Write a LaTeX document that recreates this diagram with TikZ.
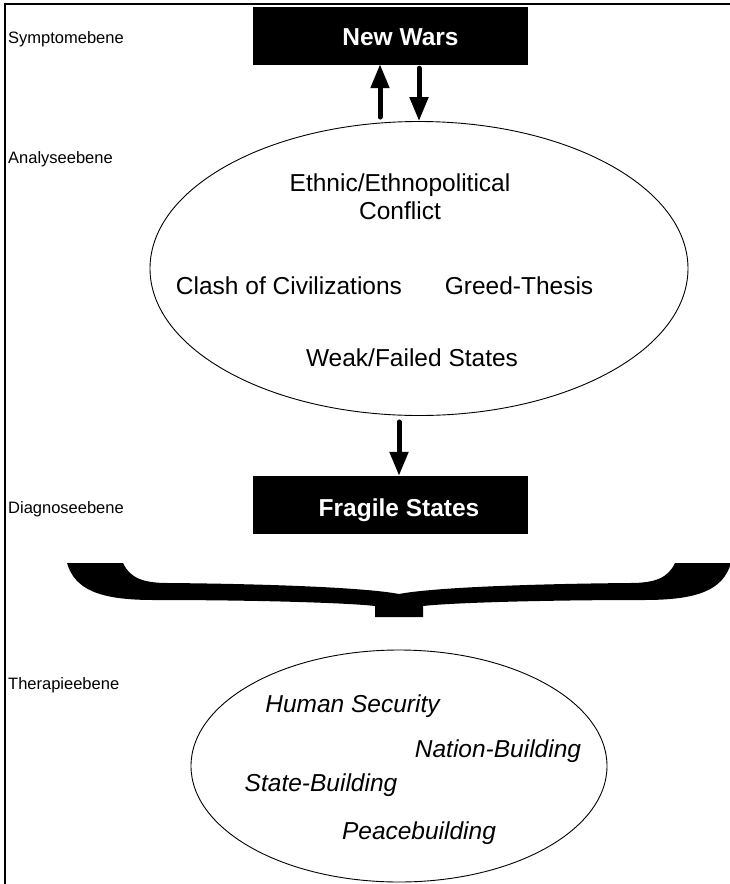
\documentclass[tikz,border=0pt]{standalone}
\usepackage{fontspec}
\setmainfont{Liberation Sans}
\usetikzlibrary{arrows.meta,shapes.geometric}
\begin{document}
\begin{tikzpicture}[x=1pt,y=-1pt,
  lab/.style={anchor=base west, font=\fontsize{16.5}{20}\selectfont, inner sep=0},
  big/.style={font=\fontsize{24.5}{27.5}\selectfont, inner sep=0, anchor=base, align=center},
  bigit/.style={font=\fontsize{24.5}{27.5}\selectfont\itshape, inner sep=0, anchor=base},
  blackbox/.style={draw=black, fill=black, minimum width=274pt, minimum height=57pt, inner sep=0},
  boxtext/.style={font=\fontsize{24.5}{27.5}\selectfont\bfseries, text=white, inner sep=0, anchor=base},
  oval/.style={draw=black, line width=0.9pt, ellipse, inner sep=0},
  arr/.style={line width=5pt, line cap=round, -{Triangle[length=24pt,width=18pt]}},
]
\useasboundingbox (0,0) rectangle (730,884);
\fill[white] (0,0) rectangle (730,884);
% frame
\draw[line width=2pt] (4,3.5) -- (731,3.5);
\draw[line width=1.5pt] (5,2.5) -- (5,885);

% level labels
\node[lab] (l1) at (8,43) {Symptomebene};
\node[lab] (l2) at (8,163) {Analyseebene};
\node[lab] (l3) at (8,513) {Diagnoseebene};
\node[lab] (l4) at (8,689) {Therapieebene};

% boxes
\node[blackbox] (nw) at (390,35.5) {};
\node[boxtext] (nwt) at (400.5,45) {New Wars};
\node[blackbox] (fs) at (390,504.5) {};
\node[boxtext] (fst) at (399,516) {Fragile States};

% analysis ellipse
\node[oval, minimum width=538pt, minimum height=294pt] (ana) at (419,268.5) {};
\node[big] (t1) at (400,219) {Ethnic/Ethnopolitical\\Conflict};
\node[big] (t2) at (289,294) {Clash of Civilizations};
\node[big] (t3) at (519,294) {Greed-Thesis};
\node[big] (t4) at (412,366) {Weak/Failed States};

% therapy ellipse
\node[oval, minimum width=416pt, minimum height=232pt] (ther) at (399,766) {};
\node[bigit] (h1) at (352.5,712) {Human Security};
\node[bigit] (h2) at (498,757) {Nation-Building};
\node[bigit] (h3) at (321,791) {State-Building};
\node[bigit] (h4) at (419,839) {Peacebuilding};

% arrows
\draw[arr, shorten <=4pt] ([xshift=-39pt]ana.north) -- ([xshift=-10pt]nw.south);
\draw[arr, shorten <=4pt] ([xshift=29pt]nw.south) -- ([xshift=0pt]ana.north);
\draw[arr, shorten <=6pt] ([xshift=-20pt]ana.south) -- ([xshift=9pt]fs.north);

% brace
\fill[black] (67,563) .. controls (75,590) and (100,600) .. (154,600)
  .. controls (260,600) and (350,603) .. (375,606) -- (375,617) -- (423,617) -- (423,606)
  .. controls (448,603) and (538,600) .. (644,600)
  .. controls (698,600) and (723,590) .. (731,563) -- (675,563)
  .. controls (668,578) and (655,583) .. (630,583)
  .. controls (520,584) and (430,588) .. (399,594)
  .. controls (368,588) and (278,584) .. (168,583)
  .. controls (143,583) and (130,578) .. (123,563) -- cycle;
\end{tikzpicture}
\end{document}
